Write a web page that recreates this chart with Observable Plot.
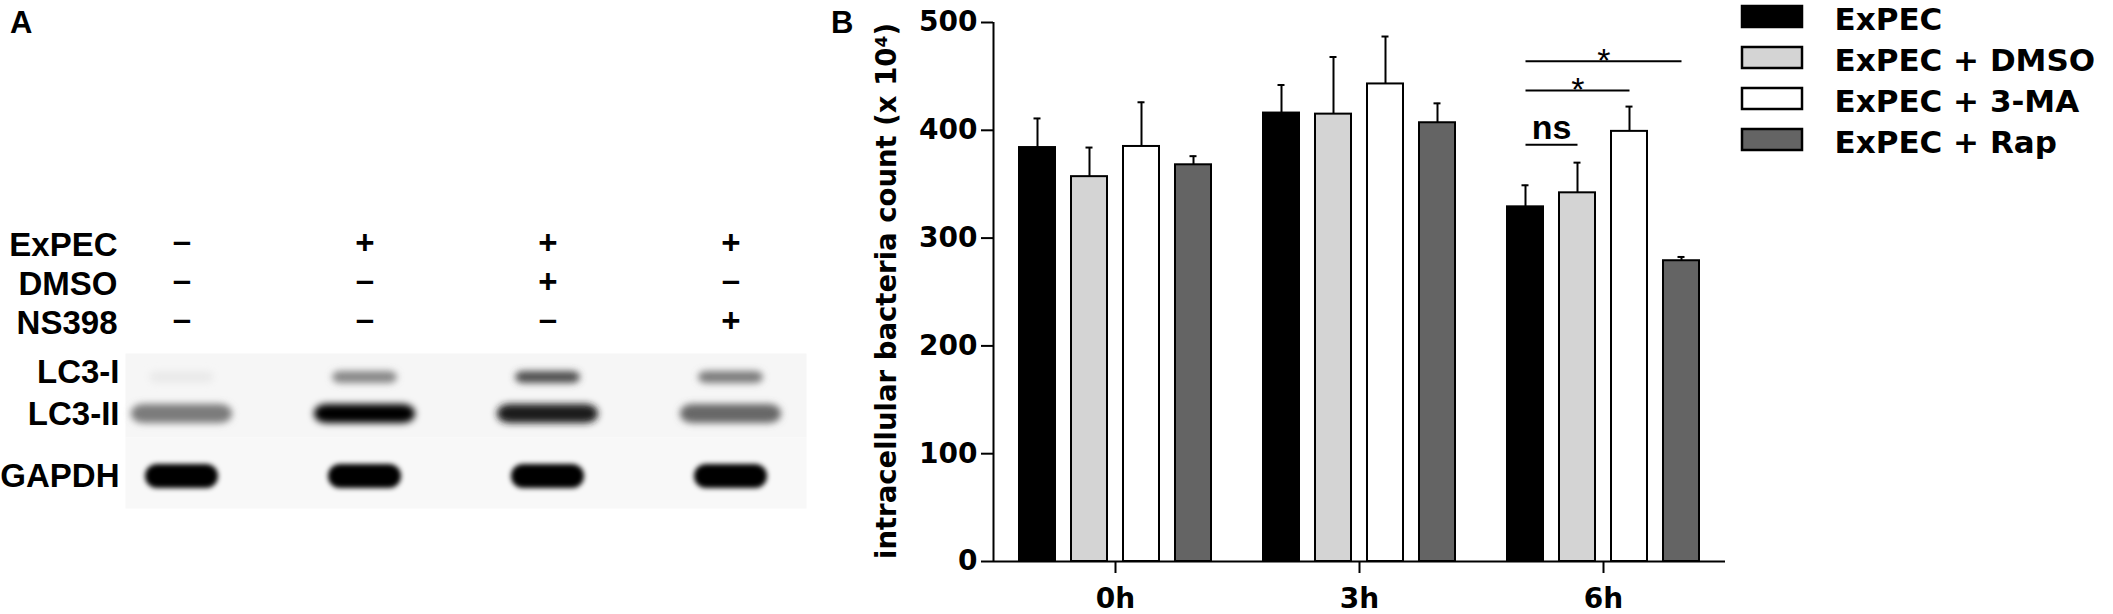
<!DOCTYPE html>
<html><head><meta charset="utf-8">
<script src="https://cdn.jsdelivr.net/npm/d3@7"></script>
<script src="https://cdn.jsdelivr.net/npm/@observablehq/plot@0.6"></script>
<style>
html,body{margin:0;padding:0;background:#fff;}
#root{position:relative;width:2113px;height:614px;overflow:hidden;background:#fff;}
.panel-label{position:absolute;font-family:"Liberation Sans",Arial,sans-serif;font-weight:bold;font-size:31px;line-height:1;color:#000;}
</style></head><body><div id="root"></div>
<script>
// ---------- Panel B data ----------
const times = ["0h", "3h", "6h"];
const treatments = ["ExPEC", "ExPEC + DMSO", "ExPEC + 3-MA", "ExPEC + Rap"];
const fills = ["#000000", "#d4d4d4", "#ffffff", "#646464"];
const meanExPEC = [384, 416, 329];
const meanDMSO  = [357, 415, 342];
const mean3MA   = [385, 443, 399];
const meanRap   = [368, 407, 279];
const semExPEC = [27, 26, 20];
const semDMSO  = [27, 53, 28];
const sem3MA   = [41, 44, 23];
const semRap   = [8, 18, 3.5];
const yTicks = [0, 100, 200, 300, 400, 500];
const yLabel = "intracellular bacteria count (x 10\u2074)";
// significance comparisons (at 6h)
const sigTime = ["6h", "6h", "6h"];
const sigFrom = ["ExPEC", "ExPEC", "ExPEC"];
const sigTo = ["ExPEC + DMSO", "ExPEC + 3-MA", "ExPEC + Rap"];
const sigY = [386.5, 437, 464];
const sigLabel = ["ns", "*", "*"];

// ---------- Panel A data ----------
const lanes = ["1", "2", "3", "4"];
const agents = ["ExPEC", "DMSO", "NS398"];
const signsExPEC = ["\u2013", "+", "+", "+"];
const signsDMSO  = ["\u2013", "\u2013", "+", "\u2013"];
const signsNS398 = ["\u2013", "\u2013", "\u2013", "+"];
const lc3Rows = ["LC3-I", "LC3-II"];
const levelLC3I  = [0.05, 0.45, 0.68, 0.5];
const levelLC3II = [0.5, 1.0, 0.88, 0.58];
const levelGAPDH = [1.0, 1.0, 1.0, 1.0];

// ---------- build tables ----------
const means = [meanExPEC, meanDMSO, mean3MA, meanRap];
const sems = [semExPEC, semDMSO, sem3MA, semRap];
const barData = [];
treatments.forEach((t, i) => times.forEach((h, j) => barData.push({time: h, treatment: t, mean: means[i][j], sem: sems[i][j]})));
const sigData = sigLabel.map((l, i) => ({time: sigTime[i], from: sigFrom[i], to: sigTo[i], y: sigY[i], label: l}));

const signRows = [signsExPEC, signsDMSO, signsNS398];
const signData = [];
agents.forEach((a, i) => lanes.forEach((l, j) => signData.push({agent: a, lane: l, sign: signRows[i][j]})));
const lc3Data = [];
lanes.forEach((l, j) => { lc3Data.push({lane: l, row: "LC3-I", level: levelLC3I[j]}); lc3Data.push({lane: l, row: "LC3-II", level: levelLC3II[j]}); });
const gapdhData = lanes.map((l, j) => ({lane: l, row: "GAPDH", level: levelGAPDH[j]}));

const root = document.getElementById("root");
function place(node, left, top) {
  node.style.position = "absolute";
  node.style.left = left + "px";
  node.style.top = top + "px";
  root.appendChild(node);
}
function label(txt, left, top) {
  const d = document.createElement("div");
  d.className = "panel-label";
  d.textContent = txt;
  place(d, left, top);
}
function addBlur(svg, id, sd) {
  const s = d3.select(svg);
  s.insert("defs", ":first-child").append("filter").attr("id", id)
    .attr("x", "-50%").attr("y", "-150%").attr("width", "200%").attr("height", "400%")
    .append("feGaussianBlur").attr("stdDeviation", sd);
  s.selectAll('g[aria-label="cell"]').attr("filter", `url(#${id})`);
}

// ---------- Panel A ----------
const fontA = {fontFamily: "'Liberation Sans', Arial, sans-serif", fontWeight: "bold", fontSize: "33px", background: "transparent", overflow: "visible", color: "#000"};
const laneX = {type: "band", domain: lanes, range: [90, 822], padding: 0, axis: null};

const tablePlot = Plot.plot({
  width: 830, height: 125, marginLeft: 120, marginRight: 0, marginTop: 0, marginBottom: 0,
  style: fontA,
  x: laneX,
  y: {type: "point", domain: agents, range: [25, 103.5], padding: 0},
  marks: [
    Plot.axisY({tickSize: 0, tickPadding: 3, label: null}),
    Plot.text(signData.filter(d => d.sign === "+"), {x: "lane", y: "agent", text: "sign", fontSize: 33, dy: -2.5}),
    Plot.text(signData.filter(d => d.sign !== "+"), {x: "lane", y: "agent", text: "sign", fontSize: 33, dy: -4})
  ]
});
place(tablePlot, 0, 220);

const grayScale = {type: "linear", domain: [0, 1], range: ["#f6f6f6", "#000000"]};
const lc3Plot = Plot.plot({
  width: 830, height: 84, marginLeft: 125, marginRight: 24, marginTop: 0, marginBottom: 0,
  style: fontA,
  x: laneX,
  y: {type: "band", domain: lc3Rows, range: [-3, 82], paddingInner: 0.667, paddingOuter: 0.333},
  color: grayScale,
  marks: [
    Plot.frame({fill: "#f6f6f6", stroke: "none"}),
    Plot.axisY({tickSize: 0, tickPadding: 6, label: null}),
    Plot.cell(lc3Data.filter(d => d.row === "LC3-I"), {x: "lane", y: "row", fill: "level", insetLeft: 59, insetRight: 59, insetTop: 1, insetBottom: 1, rx: 8, dy: 5}),
    Plot.cell(lc3Data.filter(d => d.row === "LC3-II"), {x: "lane", y: "row", fill: "level", insetLeft: 41, insetRight: 41, insetTop: -3, insetBottom: -2, rx: 12})
  ]
});
addBlur(lc3Plot, "blurLC3", 3.5);
place(lc3Plot, 0, 353);

const gapdhPlot = Plot.plot({
  width: 830, height: 71, marginLeft: 125, marginRight: 24, marginTop: 0, marginBottom: 0,
  style: fontA,
  x: laneX,
  y: {type: "band", domain: ["GAPDH"], range: [7, 71], padding: 0.524},
  color: grayScale,
  marks: [
    Plot.frame({fill: "#f8f8f8", stroke: "none"}),
    Plot.axisY({tickSize: 0, tickPadding: 6, label: null}),
    Plot.cell(gapdhData, {x: "lane", y: "row", fill: "level", insetLeft: 55, insetRight: 55, insetTop: -2, insetBottom: -2, rx: 12})
  ]
});
addBlur(gapdhPlot, "blurGAPDH", 2.5);
place(gapdhPlot, 0, 437);

label("A", 10, 7);

// ---------- Panel B ----------
const W = 900, ML = 163, MR = 5, MT = 22, MB = 53;
const pIn = 0.31, pOut = 0.49;
const facetWidth = (W - ML - MR) / times.length;
const xStep = facetWidth / (treatments.length - pIn + 2 * pOut);
const fontB = {fontFamily: "'DejaVu Sans', sans-serif", fontWeight: "bold", fontSize: "28px", background: "transparent", overflow: "visible", color: "#000"};

const barsPlot = Plot.plot({
  width: W, height: 614, marginLeft: ML, marginRight: MR, marginTop: MT, marginBottom: MB,
  style: fontB,
  fx: {domain: times, padding: 0, label: null},
  x: {domain: treatments, paddingInner: pIn, paddingOuter: pOut, axis: null},
  y: {domain: [0, 500], axis: null},
  color: {domain: treatments, range: fills},
  marks: [
    Plot.barY(barData, {fx: "time", x: "treatment", y: "mean", fill: "treatment", stroke: "#000", strokeWidth: 2}),
    Plot.ruleX(barData, {fx: "time", x: "treatment", y1: "mean", y2: d => d.mean + d.sem, stroke: "#000", strokeWidth: 2}),
    Plot.tickY(barData, {fx: "time", x: "treatment", y: d => d.mean + d.sem, insetLeft: 14.5, insetRight: 14.5, stroke: "#000", strokeWidth: 2}),
    Plot.link(sigData, {fx: "time", x1: "from", x2: "to", y1: "y", y2: "y", stroke: "#000", strokeWidth: 2}),
    ...sigData.map(s => Plot.text([s], {
      fx: "time", x: "from", y: "y", text: "label",
      dx: (treatments.indexOf(s.to) - treatments.indexOf(s.from)) * xStep / 2,
      dy: s.label === "ns" ? -17 : 0,
      lineAnchor: "middle",
      fontFamily: "'Liberation Sans', Arial, sans-serif",
      fontWeight: s.label === "ns" ? "bold" : "normal",
      fontSize: 34
    })),
    Plot.axisFx({anchor: "bottom", tickSize: 12, tickPadding: 15, strokeWidth: 2, fontSize: 28, label: null})
  ]
});
place(barsPlot, 830, 0);

const axisPlot = Plot.plot({
  width: W, height: 614, marginLeft: ML, marginRight: MR, marginTop: MT, marginBottom: MB,
  style: {...fontB, fontSize: "28px"},
  x: {domain: [0, 1], axis: null},
  y: {domain: [0, 500]},
  marks: [
    Plot.ruleX([0], {y1: 0, y2: 500, stroke: "#000", strokeWidth: 2}),
    Plot.ruleY([0], {stroke: "#000", strokeWidth: 2}),
    Plot.axisY({ticks: yTicks, tickSize: 12, tickPadding: 4, strokeWidth: 2, label: null}),
    Plot.text([yLabel], {text: d => d, frameAnchor: "left", rotate: -90, dx: -106, dy: -1, fontSize: 27.5, textAnchor: "middle", lineAnchor: "middle"})
  ]
});
place(axisPlot, 830, 0);

label("B", 831, 7);

// ---------- Legend ----------
const legendPlot = Plot.plot({
  width: 383, height: 170, marginLeft: 0, marginRight: 0, marginTop: 0, marginBottom: 0,
  style: {...fontB, fontSize: "31px"},
  x: {type: "band", domain: ["swatch"], range: [12, 72], padding: 0, axis: null},
  y: {type: "band", domain: treatments, range: [-4, 160], paddingInner: 0.49, paddingOuter: 0.245, axis: null},
  color: {domain: treatments, range: fills},
  marks: [
    Plot.cell(treatments, {x: () => "swatch", y: d => d, fill: d => d, stroke: "#000", strokeWidth: 2.5}),
    Plot.text(treatments, {text: d => d, y: d => d, frameAnchor: "left", dx: 104, dy: 3, textAnchor: "start", lineAnchor: "middle"})
  ]
});
place(legendPlot, 1730, 0);
</script>
</body></html>
